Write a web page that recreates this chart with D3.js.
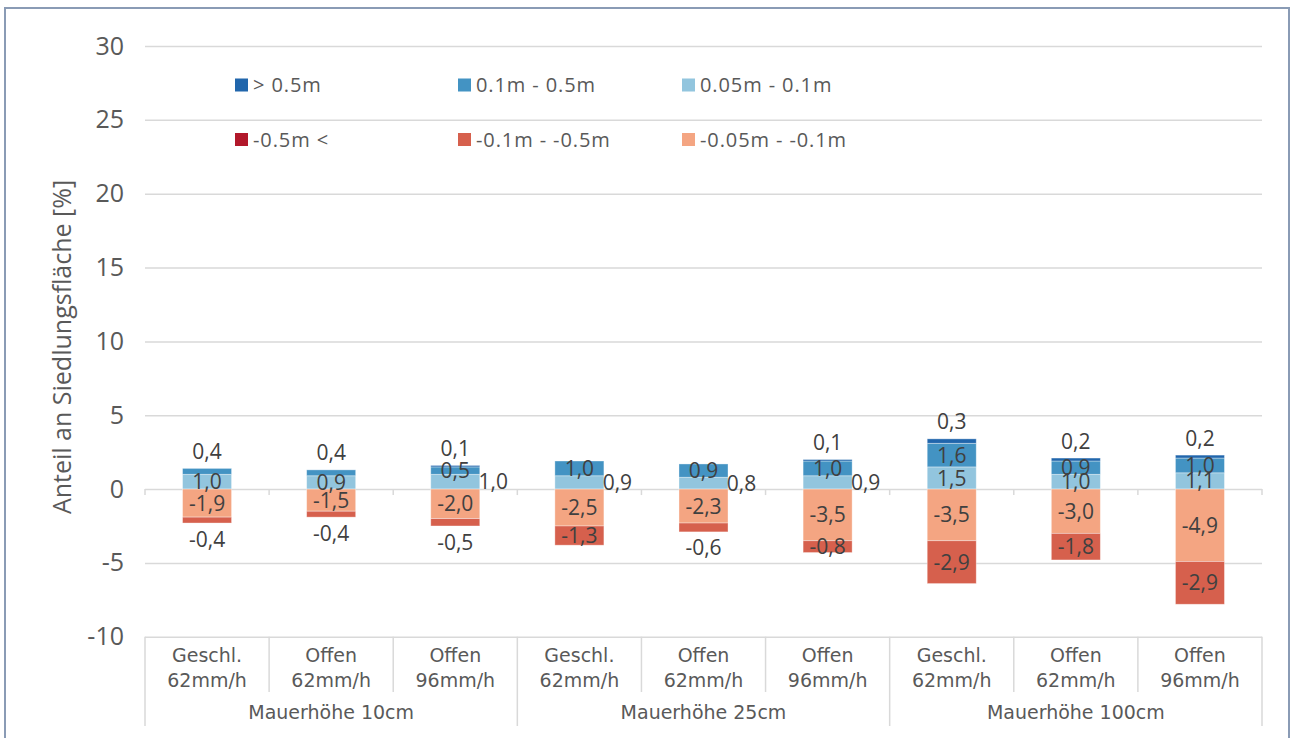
<!DOCTYPE html>
<html><head><meta charset="utf-8">
<script src="https://cdn.jsdelivr.net/npm/d3@7"></script>
<style>body{margin:0;background:#fff;} svg{display:block;}</style>
</head><body>
<svg id="chart" width="1292" height="738"></svg>
<script>
// ---- data ----
const catLine1 = ["Geschl.","Offen","Offen","Geschl.","Offen","Offen","Geschl.","Offen","Offen"];
const catLine2 = ["62mm/h","62mm/h","96mm/h","62mm/h","62mm/h","96mm/h","62mm/h","62mm/h","96mm/h"];
const groups = ["Mauerhöhe 10cm","Mauerhöhe 25cm","Mauerhöhe 100cm"];
const yTicks = [-10,-5,0,5,10,15,20,25,30];

const seriesKeys = ["lb","mb","db","sal","red","dr"];
const seriesNames = ["0.05m - 0.1m","0.1m - 0.5m","> 0.5m","-0.05m - -0.1m","-0.1m - -0.5m","-0.5m <"];
const valLb  = [1.0, 0.9, 1.0, 0.9, 0.8, 0.9, 1.5, 1.0, 1.1];
const valMb  = [0.4, 0.4, 0.5, 1.0, 0.9, 1.0, 1.6, 0.9, 1.0];
const valDb  = [0.0, 0.0, 0.1, 0.0, 0.0, 0.1, 0.3, 0.2, 0.2];
const valSal = [-1.9, -1.5, -2.0, -2.5, -2.3, -3.5, -3.5, -3.0, -4.9];
const valRed = [-0.4, -0.4, -0.5, -1.3, -0.6, -0.8, -2.9, -1.8, -2.9];
const valDr  = [0, 0, 0, 0, 0, 0, 0, 0, 0];

// ---- label placement keywords (not data) ----
const labelPlace = {
  lb:  ["center","center","right","right","right","right","center","center","center"],
  mb:  ["above","above","center","center","center","center","center","center","center"],
  db:  ["above","above","above","above","above","above","above","above","above"],
  sal: ["center","center","center","center","center","center","center","center","center"],
  red: ["below","below","below","center","below","center","center","center","center"],
  dr:  ["below","below","below","below","below","below","below","below","below"]
};
const colors = {lb:"#92c5de", mb:"#4393c3", db:"#2166ac", sal:"#f4a582", red:"#d6604d", dr:"#b2182b"};
const legendRows = [["db","mb","lb"],["dr","red","sal"]];

// ---- build ----
const svg = d3.select("#chart");
const plotL = 145, plotR = 1262;
const rows = catLine1.map((c,i)=>({i, lb:valLb[i], mb:valMb[i], db:valDb[i], sal:valSal[i], red:valRed[i], dr:valDr[i]}));
const stacked = d3.stack().keys(seriesKeys).offset(d3.stackOffsetDiverging)(rows);

const xStep = d3.scaleBand().domain(d3.range(rows.length)).range([plotL, plotR]);
const x = d3.scaleBand().domain(d3.range(rows.length)).range([plotL, plotR]).paddingInner(0.605).paddingOuter(0.3025);
const y = d3.scaleLinear().domain([-10, 30]).range([636.75, 46]);

// frame
svg.append("rect").attr("x",5).attr("y",8).attr("width",1284).attr("height",745)
  .attr("fill","#fff").attr("stroke","#8a9bb5").attr("stroke-width",2);

// y axis with gridlines
const yAxis = d3.axisLeft(y).tickValues(yTicks).tickSizeInner(-(plotR-plotL)).tickSizeOuter(0).tickPadding(21)
  .tickFormat(d => String(d));
const gy = svg.append("g").attr("transform",`translate(${plotL},0)`).call(yAxis);
gy.select(".domain").remove();
gy.selectAll(".tick line").attr("stroke","#d9d9d9").attr("stroke-width",1.5);
gy.selectAll(".tick text").attr("font-family","'Open Sans', sans-serif").attr("font-size",25)
  .attr("fill","#595959");

// small ticks below zero line at category boundaries
const bounds = d3.range(rows.length+1).map(i => plotL + i*xStep.step());
svg.append("g").selectAll("line").data(bounds).join("line")
  .attr("x1",d=>d).attr("x2",d=>d).attr("y1",y(0)).attr("y2",y(0)+6)
  .attr("stroke","#d9d9d9").attr("stroke-width",1.5);

// category axis box (vertical separators)
svg.append("g").selectAll("line").data(bounds).join("line")
  .attr("x1",d=>d).attr("x2",d=>d).attr("y1",y(-10))
  .attr("y2",(d,i)=> i%3===0 ? 726 : 692)
  .attr("stroke","#d9d9d9").attr("stroke-width",1.5);

// bars
const layers = svg.append("g").selectAll("g").data(stacked).join("g").attr("fill",d=>colors[d.key]);
layers.selectAll("rect").data(d=>d.filter(s=>s[1]!==s[0])).join("rect")
  .attr("x",d=>x(d.data.i)).attr("width",x.bandwidth())
  .attr("y",d=>y(Math.max(d[0],d[1]))).attr("height",d=>Math.abs(y(d[0])-y(d[1])))
  .attr("stroke","#fff").attr("stroke-opacity",0.45).attr("stroke-width",0.8);

// data labels
const fmt = v => d3.format(".1f")(v).replace("\u2212","-").replace(".",",");
const posTop = rows.map(r => r.lb + r.mb + r.db);
const negBot = rows.map(r => r.sal + r.red + r.dr);
const labs = [];
stacked.forEach(layer => {
  layer.forEach((s,i) => {
    const v = rows[i][layer.key];
    if (!v) return;
    const pl = labelPlace[layer.key][i];
    let cx = x(i) + x.bandwidth()/2;
    let cy = (y(s[0]) + y(s[1]))/2;
    if (pl === "above") cy = y(posTop[i]) - 17;
    if (pl === "below") cy = y(negBot[i]) + 16;
    if (pl === "right") cx += 38;
    labs.push({cx, cy, t: fmt(v)});
  });
});
svg.append("g").selectAll("text").data(labs).join("text")
  .attr("x",d=>d.cx).attr("y",d=>d.cy).attr("dy","0.36em").attr("text-anchor","middle")
  .attr("font-family","'Open Sans', sans-serif").attr("font-size",21).attr("fill","#404040")
  .text(d=>d.t);

// category labels
const catFont = "'DejaVu Sans', sans-serif";
const gc = svg.append("g").attr("font-family",catFont).attr("font-size",20).attr("fill","#595959").attr("text-anchor","middle");
gc.selectAll("text.l1").data(catLine1).join("text").attr("class","l1")
  .attr("transform",(d,i)=>`translate(${xStep(i)+xStep.bandwidth()/2},${655}) scale(0.95,1)`)
  .attr("dy","0.36em").text(d=>d);
gc.selectAll("text.l2").data(catLine2).join("text").attr("class","l2")
  .attr("transform",(d,i)=>`translate(${xStep(i)+xStep.bandwidth()/2},${680}) scale(0.95,1)`)
  .attr("dy","0.36em").text(d=>d);
gc.selectAll("text.g").data(groups).join("text").attr("class","g")
  .attr("transform",(d,i)=>`translate(${(xStep(i*3)+xStep(i*3+2)+xStep.bandwidth())/2},${712}) scale(0.95,1)`)
  .attr("dy","0.36em").text(d=>d);

// y title
svg.append("text").attr("transform",`translate(62,347) rotate(-90)`).attr("dy","0.36em")
  .attr("text-anchor","middle").attr("font-family","'Open Sans', sans-serif").attr("font-size",25)
  .attr("fill","#595959").text("Anteil an Siedlungsfläche [%]");

// legend
const legX = [235, 458, 682], legY = [85, 139.5];
legendRows.forEach((row,r) => {
  const g = svg.append("g");
  g.selectAll("rect").data(row).join("rect")
    .attr("x",(d,c)=>legX[c]).attr("y",legY[r]-6.5).attr("width",13).attr("height",13)
    .attr("fill",d=>colors[d]);
  g.selectAll("text").data(row).join("text")
    .attr("x",(d,c)=>legX[c]+18).attr("y",legY[r]).attr("dy","0.36em")
    .attr("font-family","'Open Sans', sans-serif").attr("font-size",20).attr("letter-spacing",0.9)
    .attr("fill","#595959").text(d=>seriesNames[seriesKeys.indexOf(d)]);
});
</script>
</body></html>
